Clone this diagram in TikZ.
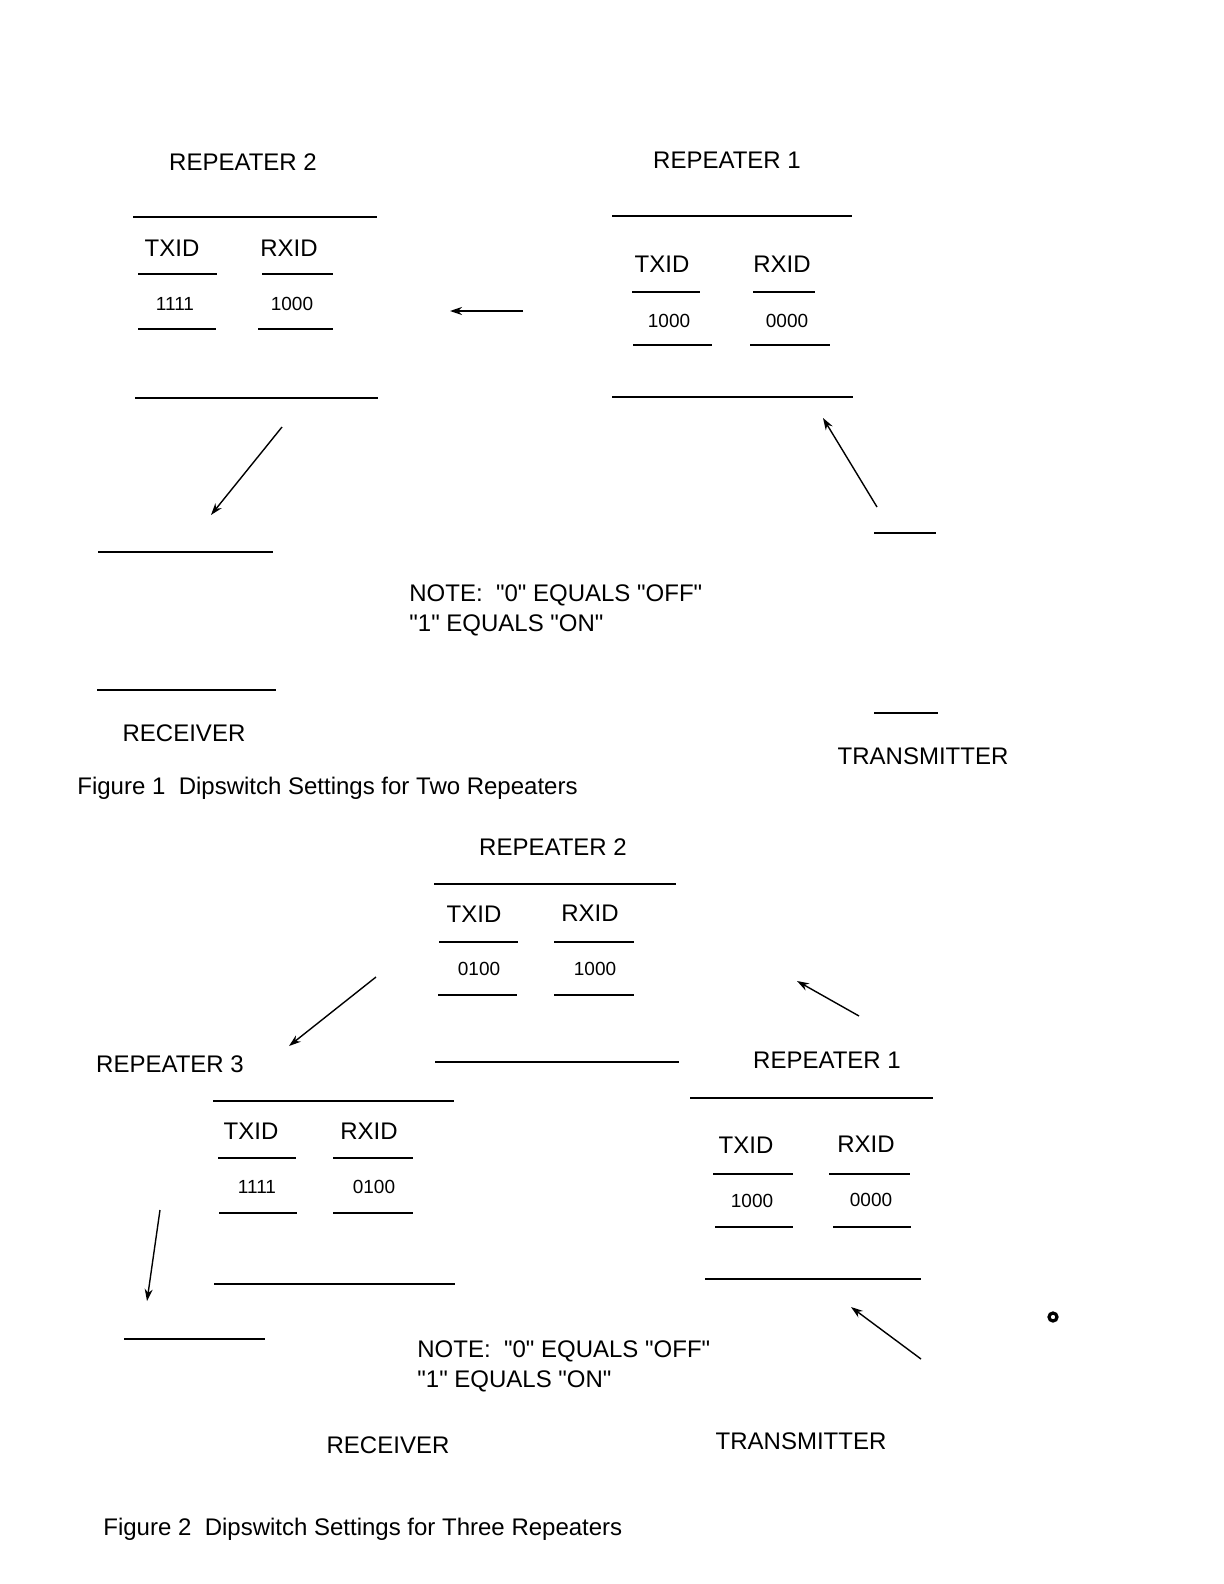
\documentclass[tikz,border=0pt]{standalone}
\usepackage{fontspec}
\setmainfont{Liberation Sans}[Ligatures=TeXOff]
\usetikzlibrary{arrows.meta,positioning}

\begin{document}
\begin{tikzpicture}[x=0.5pt,y=-0.5pt,>={Stealth[length=6pt,width=4pt]},
  lbl/.style={font=\fontsize{12}{14}\selectfont,inner sep=0pt,anchor=base},
  num/.style={font=\fontsize{9.5}{11}\selectfont,inner sep=0pt,anchor=base},
  note/.style={lbl,anchor=base west},
  rule/.style={line width=0.8pt},
  link/.style={->,line width=0.7pt}]
\useasboundingbox (0,0) rectangle (1224,1584);
% Figure 1
\node[lbl] (fA2) at (243,170) {REPEATER 2};
\draw[rule] (133,217) -- (377,217); \draw[rule] (135,398) -- (378,398);
\node[lbl] (fA2tx) at (172,256) {TXID}; \node[lbl] (fA2rx) at (289,256) {RXID};
\draw[rule] (138,274) -- (217,274); \draw[rule] (262,274) -- (333,274);
\node[num] (fA2txv) at (175,310) {1111}; \node[num] (fA2rxv) at (292,310) {1000};
\draw[rule] (138,329) -- (216,329); \draw[rule] (258,329) -- (333,329);
\node[lbl] (fA1) at (727,169) {REPEATER 1};
\draw[rule] (612,216) -- (852,216); \draw[rule] (612,397) -- (853,397);
\node[lbl] (fA1tx) at (662,272) {TXID}; \node[lbl] (fA1rx) at (782,272) {RXID};
\draw[rule] (632,292) -- (700,292); \draw[rule] (753,292) -- (815,292);
\node[num] (fA1txv) at (669,327) {1000}; \node[num] (fA1rxv) at (787,327) {0000};
\draw[rule] (633,345) -- (712,345); \draw[rule] (750,345) -- (830,345);
\draw[rule] (98,552) -- (273,552); \draw[rule] (97,690) -- (276,690);
\node[lbl] (fArx) at (184,741) {RECEIVER};
\draw[rule] (874,533) -- (936,533); \draw[rule] (874,713) -- (938,713);
\node[lbl] (fAtx) at (923,764) {TRANSMITTER};
\node[note] (fAn1) at (409,601) {NOTE:\ \ "0" EQUALS "OFF"};
\node[note] (fAn2) at (409,631) {"1" EQUALS "ON"};
\node[note] (fAcap) at (77,794) {Figure 1\ \ Dipswitch Settings for Two Repeaters};
\coordinate (fAa1) at (523,311); \coordinate (fAb1) at (450,311);
\coordinate (fAa2) at (282,427); \coordinate (fAb2) at (211,515);
\coordinate (fAa3) at (877,507); \coordinate (fAb3) at (823,418);
\draw[link] (fAa1) -- (fAb1); \draw[link] (fAa2) -- (fAb2); \draw[link] (fAa3) -- (fAb3);
% Figure 2
\node[lbl] (fB2) at (553,855) {REPEATER 2};
\draw[rule] (434,884) -- (676,884); \draw[rule] (435,1062) -- (679,1062);
\node[lbl] (fB2tx) at (474,922) {TXID}; \node[lbl] (fB2rx) at (590,921) {RXID};
\draw[rule] (439,942) -- (518,942); \draw[rule] (554,942) -- (634,942);
\node[num] (fB2txv) at (479,975) {0100}; \node[num] (fB2rxv) at (595,975) {1000};
\draw[rule] (438,995) -- (517,995); \draw[rule] (554,995) -- (634,995);
\node[lbl] (fB3) at (170,1072) {REPEATER 3};
\draw[rule] (213,1101) -- (454,1101); \draw[rule] (214,1284) -- (455,1284);
\node[lbl] (fB3tx) at (251,1139) {TXID}; \node[lbl] (fB3rx) at (369,1139) {RXID};
\draw[rule] (218,1158) -- (296,1158); \draw[rule] (333,1158) -- (413,1158);
\node[num] (fB3txv) at (257,1193) {1111}; \node[num] (fB3rxv) at (374,1193) {0100};
\draw[rule] (219,1213) -- (297,1213); \draw[rule] (333,1213) -- (413,1213);
\node[lbl] (fB1) at (827,1068) {REPEATER 1};
\draw[rule] (690,1098) -- (933,1098); \draw[rule] (705,1279) -- (921,1279);
\node[lbl] (fB1tx) at (746,1153) {TXID}; \node[lbl] (fB1rx) at (866,1152) {RXID};
\draw[rule] (713,1174) -- (793,1174); \draw[rule] (829,1174) -- (910,1174);
\node[num] (fB1txv) at (752,1207) {1000}; \node[num] (fB1rxv) at (871,1206) {0000};
\draw[rule] (715,1227) -- (793,1227); \draw[rule] (833,1227) -- (911,1227);
\draw[rule] (124,1339) -- (265,1339);
\node[lbl] (fBrx) at (388,1453) {RECEIVER};
\node[lbl] (fBtx) at (801,1449) {TRANSMITTER};
\node[note] (fBn1) at (417,1357) {NOTE:\ \ "0" EQUALS "OFF"};
\node[note] (fBn2) at (417,1387) {"1" EQUALS "ON"};
\node[note] (fBcap) at (103,1535) {Figure 2\ \ Dipswitch Settings for Three Repeaters};
\coordinate (fBa1) at (859,1016); \coordinate (fBb1) at (797,981);
\coordinate (fBa2) at (376,977); \coordinate (fBb2) at (289,1046);
\coordinate (fBa3) at (160,1210); \coordinate (fBb3) at (147,1301);
\coordinate (fBa4) at (921,1359); \coordinate (fBb4) at (851,1307);
\draw[link] (fBa1) -- (fBb1); \draw[link] (fBa2) -- (fBb2);
\draw[link] (fBa3) -- (fBb3); \draw[link] (fBa4) -- (fBb4);
\draw[line width=1.6pt] (1053,1317) circle[radius=2pt];
\end{tikzpicture}
\end{document}
